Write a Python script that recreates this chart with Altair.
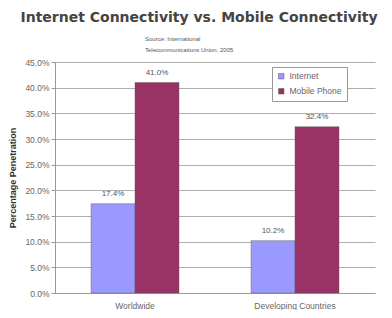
import altair as alt
import pandas as pd

categories = ["Worldwide", "Developing Countries"]
series = ["Internet", "Mobile Phone"]
internet_values = [0.174, 0.102]
mobile_values = [0.410, 0.324]
y_ticks = [0.0, 0.05, 0.10, 0.15, 0.20, 0.25, 0.30, 0.35, 0.40, 0.45]
colors = ["#9999FF", "#993366"]
title_text = "Internet Connectivity vs. Mobile Connectivity"
source_lines = ["Source: International", "Telecommunications Union, 2005"]

rows = []
for i, c in enumerate(categories):
    rows.append({"category": c, "series": series[0], "value": internet_values[i]})
    rows.append({"category": c, "series": series[1], "value": mobile_values[i]})
df = pd.DataFrame(rows)

FONT = "Liberation Sans"

x_enc = alt.X(
    "category:N",
    sort=categories,
    scale=alt.Scale(paddingInner=0.45, paddingOuter=0.225),
    axis=alt.Axis(
        title=None, labelAngle=0, ticks=False, labelPadding=8,
        labelFontSize=8.5, labelColor="#666", labelFont=FONT, labelFontWeight="normal",
        domainColor="#999", domainWidth=1, grid=False,
    ),
)
y_enc = alt.Y(
    "value:Q",
    scale=alt.Scale(domain=[0, 0.45], nice=False),
    axis=alt.Axis(
        values=y_ticks, format=".1%", title="Percentage Penetration",
        titleFontSize=9, titleFont=FONT, titleColor="#333", titleFontWeight="bold",
        titlePadding=7, labelFontSize=8.5, labelColor="#666", labelFont=FONT,
        labelOverlap=False, labelFlush=False, tickCount=10,
        tickSize=4, tickColor="#999", domainColor="#999",
        gridColor="#999", gridWidth=0.8, labelPadding=2,
    ),
)

bars = alt.Chart(df).mark_bar(stroke="#555", strokeWidth=0.4).encode(
    x=x_enc,
    xOffset=alt.XOffset("series:N", sort=series),
    y=y_enc,
    color=alt.Color(
        "series:N", sort=series,
        scale=alt.Scale(domain=series, range=colors),
        legend=alt.Legend(
            title=None, orient="none", legendX=217, legendY=5,
            strokeColor="#999", fillColor="white", padding=5,
            symbolType="square", symbolSize=30, symbolStrokeWidth=0.5,
            labelFontSize=8.5, labelFont=FONT, labelColor="#666", rowPadding=6,
        ),
    ),
)

labels = alt.Chart(df).mark_text(
    baseline="bottom", dy=-6, fontSize=8, font=FONT, color="#555"
).encode(
    x=x_enc,
    xOffset=alt.XOffset("series:N", sort=series),
    y=y_enc,
    text=alt.Text("value:Q", format=".1%"),
)

source1 = alt.Chart(pd.DataFrame({"line": [source_lines[0]]})).mark_text(
    align="left", baseline="middle", fontSize=6, font=FONT, color="#555"
).encode(x=alt.value(90), y=alt.value(-23), text="line:N")
source2 = alt.Chart(pd.DataFrame({"line": [source_lines[1]]})).mark_text(
    align="left", baseline="middle", fontSize=6, font=FONT, color="#555"
).encode(x=alt.value(90), y=alt.value(-12), text="line:N")

chart = alt.layer(bars, labels, source1, source2).properties(
    width=320, height=231,
    autosize="none",
    padding={"left": 47, "top": 54, "right": 9, "bottom": 17},
    title=alt.TitleParams(
        title_text, anchor="middle", dx=-16, fontSize=14,
        font="DejaVu Sans", fontWeight="bold", color="#444", offset=11,
    ),
).configure_view(stroke=None)

chart.save("out.html", embed_options={"renderer": "svg", "actions": False})
